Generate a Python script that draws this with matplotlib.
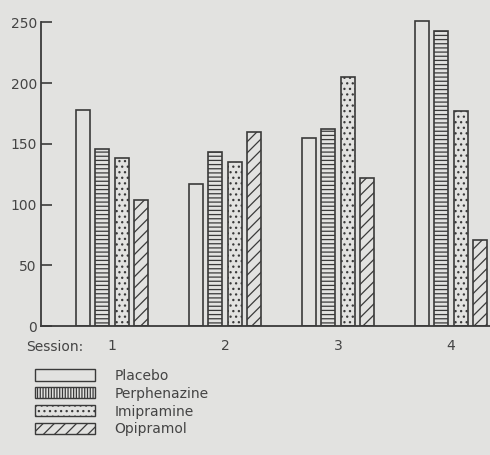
import numpy as np
import matplotlib
matplotlib.use("Agg")
import matplotlib.pyplot as plt
import matplotlib.transforms as mtransforms
from matplotlib.patches import Patch

sessions = ["1", "2", "3", "4"]
drugs = ["Placebo", "Perphenazine", "Imipramine", "Opipramol"]
placebo = [178, 117, 155, 251]
perphenazine = [146, 143, 162, 243]
imipramine = [138, 135, 205, 177]
opipramol = [104, 160, 122, 71]
yticks = [0, 50, 100, 150, 200, 250]

series = [placebo, perphenazine, imipramine, opipramol]
hatches = ["", "----", "...", "///"]
legend_hatches = ["", "||||||", "...", "///"]

ink = "#3a3a3a"
bg = "#e2e2e0"
plt.rcParams["hatch.linewidth"] = 0.9
plt.rcParams["hatch.color"] = ink
plt.rcParams["font.family"] = ["DejaVu Sans"]

fig = plt.figure(figsize=(4.9, 4.55), dpi=100, facecolor=bg)
ax = fig.add_axes([41 / 490, 129 / 455, 1 - 41 / 490, (326 - 15) / 455])
ax.set_facecolor(bg)

x = np.arange(len(sessions))
pitch = 0.1726
width = 0.124
for j, (vals, h) in enumerate(zip(series, hatches)):
    ax.bar(x + (j - 1.5) * pitch, vals, width, facecolor=bg, edgecolor=ink,
           linewidth=1.2, hatch=h, zorder=2)

ax.set_xlim(-0.628, 3.345)
ax.set_ylim(0, 256)
for s in ["top", "right"]:
    ax.spines[s].set_visible(False)
for s in ["left", "bottom"]:
    ax.spines[s].set_color(ink)
    ax.spines[s].set_linewidth(1.3)
ax.spines["left"].set_bounds(0, 250)

ax.set_yticks(yticks)
ax.set_yticklabels([str(v) for v in yticks])
ax.tick_params(axis="y", direction="in", length=8, width=1.2, color=ink,
               labelcolor="#444444", labelsize=10, pad=3)
ax.set_xticks(x)
ax.set_xticklabels(sessions)
ax.tick_params(axis="x", length=0, labelcolor="#444444", labelsize=10, pad=9)

ax.text(26 / 490, -0.045, "Session:",
        transform=mtransforms.blended_transform_factory(fig.transFigure, ax.transAxes),
        ha="left", va="top", fontsize=10, color="#444444")

handles = [Patch(facecolor=bg, edgecolor=ink, linewidth=1.0, hatch=h, label=d)
           for h, d in zip(legend_hatches, drugs)]
fig.legend(handles=handles, loc="upper left", bbox_to_anchor=(32 / 490, 1 - 366 / 455),
           frameon=False, fontsize=10, handlelength=4.3, handleheight=0.85,
           handletextpad=1.45, labelspacing=0.28, labelcolor="#444444",
           borderaxespad=0, borderpad=0.2)

fig.savefig("out.png", dpi=100, facecolor=bg)
